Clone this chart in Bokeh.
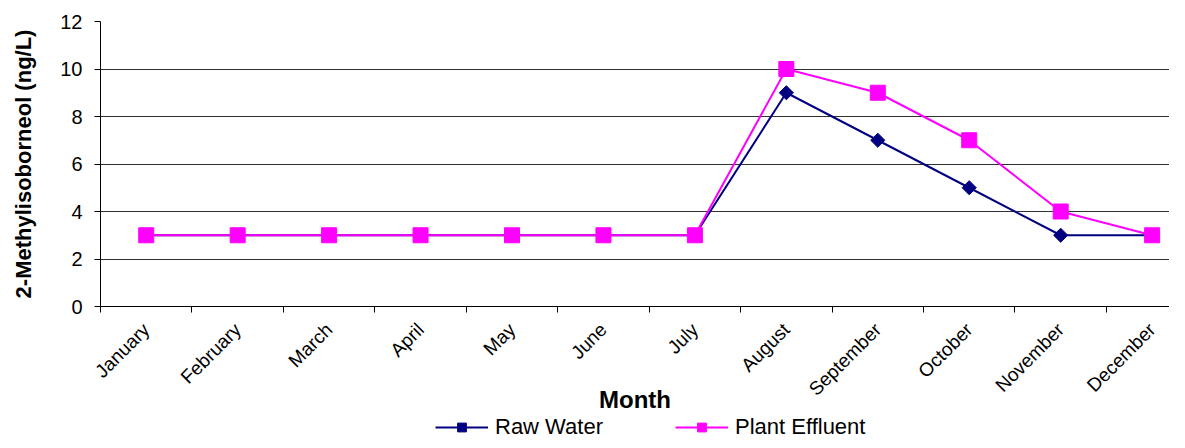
import math
from bokeh.plotting import figure
from bokeh.layouts import column
from bokeh.models import Range1d, FixedTicker, Legend, LegendItem
from bokeh.embed import file_html
from bokeh.resources import INLINE

months = ["January", "February", "March", "April", "May", "June", "July",
          "August", "September", "October", "November", "December"]
raw_water = [3, 3, 3, 3, 3, 3, 3, 9, 7, 5, 3, 3]
plant_effluent = [3, 3, 3, 3, 3, 3, 3, 10, 9, 7, 4, 3]
y_ticks = [0, 2, 4, 6, 8, 10, 12]

x = list(range(1, len(months) + 1))
FONT = "Liberation Sans"
RAW_COLOR = "#000080"
EFF_COLOR = "#FF00FF"

p = figure(frame_width=1069, frame_height=285,
           min_border_left=100, min_border_top=21, min_border_right=0, min_border_bottom=0,
           x_range=Range1d(0.5, 12.19), y_range=Range1d(0, 12),
           output_backend="svg", toolbar_location=None)
p.outline_line_color = None
p.background_fill_color = "white"
p.border_fill_color = "white"

# Grid
p.xgrid.grid_line_color = None
p.ygrid.ticker = FixedTicker(ticks=y_ticks)
p.ygrid.grid_line_color = "#303030"
p.ygrid.grid_line_width = 1

# Y axis
p.yaxis.ticker = FixedTicker(ticks=y_ticks)
p.yaxis.axis_label = "2-Methylisoborneol (ng/L)"
p.yaxis.axis_label_text_font = FONT
p.yaxis.axis_label_text_font_style = "bold"
p.yaxis.axis_label_text_font_size = "22px"
p.yaxis.axis_label_text_color = "black"
p.yaxis.axis_label_standoff = 21
p.yaxis.major_label_text_font = FONT
p.yaxis.major_label_text_font_size = "20px"
p.yaxis.major_label_text_color = "black"
p.yaxis.major_label_standoff = 12
p.yaxis.major_tick_out = 6
p.yaxis.major_tick_in = 0
p.yaxis.minor_tick_line_color = None
p.yaxis.axis_line_color = "black"
p.yaxis.major_tick_line_color = "black"

# X axis
p.xaxis.ticker = FixedTicker(ticks=x, minor_ticks=[i + 0.5 for i in range(0, 13)])
p.xaxis.major_label_overrides = {i: m for i, m in zip(x, months)}
p.xaxis.major_label_orientation = math.pi / 4
p.xaxis.major_label_text_font = FONT
p.xaxis.major_label_text_font_size = "19px"
p.xaxis.major_label_text_color = "black"
p.xaxis.major_label_standoff = 14
p.xaxis.major_tick_line_color = None
p.xaxis.minor_tick_line_color = "black"
p.xaxis.minor_tick_out = 6
p.xaxis.minor_tick_in = 0
p.xaxis.axis_line_color = "black"
p.xaxis.axis_label = "Month"
p.xaxis.axis_label_text_font = FONT
p.xaxis.axis_label_text_font_style = "bold"
p.xaxis.axis_label_text_font_size = "24px"
p.xaxis.axis_label_text_color = "black"
p.xaxis.axis_label_standoff = -24

# Series
p.line(x, raw_water, line_color=RAW_COLOR, line_width=2)
p.scatter(x, raw_water, marker="square", angle=math.pi / 4, size=10,
          fill_color=RAW_COLOR, line_color=RAW_COLOR)
p.line(x, plant_effluent, line_color=EFF_COLOR, line_width=2)
p.scatter(x, plant_effluent, marker="square", size=15,
          fill_color=EFF_COLOR, line_color=EFF_COLOR)

# Legend strip (separate small figure so the legend sits inside the window)
lg = figure(width=1169, height=24, x_axis_type=None, y_axis_type=None,
            min_border=0, x_range=Range1d(0, 1), y_range=Range1d(0, 1),
            output_backend="svg", toolbar_location=None)
lg.outline_line_color = None
lg.background_fill_color = "white"
lg.border_fill_color = "white"
r1 = lg.line([-5, -4], [-5, -5], line_color=RAW_COLOR, line_width=2)
m1 = lg.scatter([-5], [-5], marker="square", angle=math.pi / 4, size=10,
                fill_color=RAW_COLOR, line_color=RAW_COLOR)
r2 = lg.line([-5, -4], [-5, -5], line_color=EFF_COLOR, line_width=2)
m2 = lg.scatter([-5], [-5], marker="square", size=15,
                fill_color=EFF_COLOR, line_color=EFF_COLOR)

legend = Legend(items=[LegendItem(label="Raw Water", renderers=[r1, m1]),
                       LegendItem(label="Plant Effluent", renderers=[r2, m2])],
                orientation="horizontal", location=(335, 0))
legend.label_text_font = FONT
legend.label_text_font_size = "22px"
legend.label_text_color = "black"
legend.glyph_width = 53
legend.glyph_height = 22
legend.label_height = 22
legend.spacing = 72
legend.padding = 0
legend.margin = 0
legend.border_line_color = None
legend.background_fill_alpha = 0
legend.label_standoff = 7
lg.add_layout(legend, "center")

layout = column(p, lg, spacing=0)
open("out.html", "w").write(file_html(layout, INLINE))
